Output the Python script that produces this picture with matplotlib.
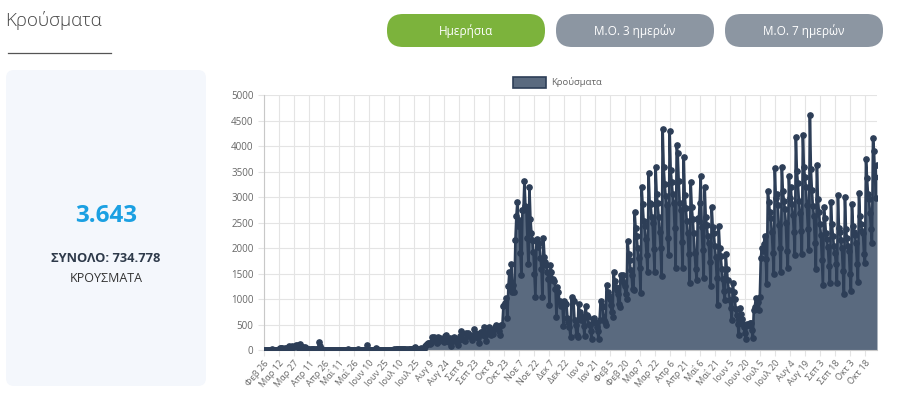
import matplotlib
matplotlib.use("Agg")
import matplotlib.pyplot as plt
import pandas as pd
from matplotlib.patches import FancyBboxPatch, Rectangle

# daily new cases, one row per week (Wed .. Tue), starting Wed 26 Feb 2020
cases_2020 = [
    1, 2, 0, 0, 0, 1, 3,
    2, 22, 14, 13, 7, 11, 16,
    10, 27, 38, 38, 38, 21, 33,
    56, 31, 46, 53, 94, 71, 48,
    78, 71, 74, 95, 102, 67, 102,
    50, 129, 60, 54, 62, 41, 60,
    56, 33, 25, 20, 13, 26, 25,
    29, 27, 15, 22, 25, 8, 156,
    78, 11, 21, 10, 13, 6, 10,
    12, 10, 15, 3, 3, 10, 0,
    15, 13, 10, 16, 3, 2, 9,
    11, 4, 10, 5, 3, 7, 3,
    21, 6, 3, 4, 5, 0, 2,
    10, 9, 5, 18, 2, 1, 1,
    3, 3, 0, 3, 0, 97, 6,
    4, 9, 10, 15, 10, 4, 3,
    55, 20, 15, 9, 7, 3, 12,
    7, 8, 12, 17, 6, 5, 14,
    14, 11, 3, 12, 19, 13, 30,
    28, 21, 21, 30, 19, 29, 19,
    26, 19, 16, 25, 11, 19, 24,
    25, 28, 35, 46, 57, 18, 31,
    33, 27, 37, 41, 26, 27, 31,
    78, 110, 124, 153, 151, 126, 150,
    262, 204, 254, 230, 217, 139, 269,
    187, 234, 211, 226, 202, 157, 284,
    293, 210, 191, 168, 243, 89, 191,
    210, 268, 179, 225, 169, 104, 208,
    291, 372, 336, 218, 208, 181, 340,
    276, 338, 277, 303, 289, 201, 262,
    410, 337, 289, 305, 246, 154, 340,
    362, 369, 307, 460, 280, 186, 333,
    366, 459, 406, 308, 328, 318, 412,
    457, 508, 448, 422, 389, 301, 490,
    499, 865, 882, 935, 1026, 626, 1259,
    1547, 1211, 1690, 1153, 1288, 1152, 2166,
    2646, 2917, 2448, 2556, 1914, 1487, 2752,
    2752, 3316, 2835, 2768, 2198, 1695, 3209,
    2581, 2311, 2163, 1929, 1498, 1044, 2152,
    2186, 2030, 2113, 1822, 1601, 1044, 2199,
    1829, 1741, 1674, 1543, 1395, 892, 1677,
    1535, 1389, 1395, 1367, 1205, 663, 1235,
    1142, 947, 978, 867, 884, 486, 975,
    934, 912, 637, 549, 459, 262, 1047,
    992, 962,
]

cases_2021 = [
    604, 495, 301, 262, 918,
    745, 602, 671, 612, 477, 278, 876,
    701, 655, 512, 491, 384, 220, 612,
    640, 558, 539, 468, 380, 215, 591,
    960, 848, 870, 601, 565, 505, 1285,
    1155, 1071, 1002, 886, 760, 662, 1530,
    1366, 1247, 1186, 1100, 902, 860, 1480,
    1388, 1471, 1316, 1258, 1108, 1000, 2150,
    1888, 1780, 1574, 1479, 1201, 1190, 2720,
    2406, 2250, 2016, 1818, 1608, 1130, 3210,
    2880, 2543, 2440, 2191, 1863, 1545, 3470,
    2900, 2876, 2607, 2498, 1990, 1545, 3590,
    3066, 2882, 2619, 2316, 2017, 1450, 4340,
    3598, 3271, 3019, 2847, 2200, 1870, 4310,
    3540, 3311, 3070, 2900, 2400, 1610, 4030,
    3870, 3329, 2888, 2760, 2135, 1610, 3790,
    3057, 2802, 2543, 2311, 1893, 1330, 3310,
    2814, 2584, 2300, 1920, 1600, 1380, 2600,
    2541, 2900, 3420, 2415, 1960, 1420, 3200,
    2622, 2450, 2251, 2105, 1740, 1260, 2820,
    2419, 2301, 2057, 1840, 1420, 890, 2440,
    2017, 1850, 1600, 1402, 1166, 990, 1890,
    1605, 1372, 1184, 986, 826, 595, 1330,
    1145, 1000, 820, 700, 520, 300, 825,
    715, 615, 510, 450, 350, 215, 520,
    506, 496, 530, 538, 400, 235, 790,
    850, 1030, 1010, 945, 800, 1050, 1810,
    2004, 1952, 2084, 2237, 1785, 1300, 3135,
    2911, 2705, 2600, 2330, 1905, 1500, 3575,
    2986, 3060, 2850, 2455, 2010, 1545, 3605,
    3130, 2940, 2764, 2490, 1947, 1610, 3430,
    2990, 3200, 2870, 2661, 2327, 1870, 4195,
    3520, 3280, 2940, 2700, 2350, 1890, 4230,
    3600, 3402, 3205, 2848, 2390, 1960, 4620,
    3560, 3140, 2830, 2640, 2100, 1590, 3640,
    2970, 2720, 2480, 2270, 1780, 1285, 2820,
    2590, 2300, 2180, 2030, 1660, 1330, 2920,
    2470, 2250, 2040, 1920, 1700, 1315, 3040,
    2400, 2330, 2170, 2000, 1550, 1100, 3000,
    2380, 2200, 2050, 1950, 1500, 1165, 2870,
    2440, 2320, 2260, 2100, 1700, 1350, 3080,
    2630, 2480, 2350, 2310, 1900, 1710, 3750,
    3390, 3060, 2960, 2700, 2380, 2100, 4160,
    3920, 3400, 2985, 3643,
]

start_date = "2020-02-26"
month_names = ["Ιαν", "Φεβ", "Μαρ", "Απρ", "Μαΐ", "Ιουν",
               "Ιουλ", "Αυγ", "Σεπ", "Οκτ", "Νοε", "Δεκ"]
series_name = "Κρούσματα"
page_title = "Κρούσματα"
buttons = ["Ημερήσια", "Μ.Ο. 3 ημερών", "Μ.Ο. 7 ημερών"]
latest_value = "3.643"
total_text = "ΣΥΝΟΛΟ: 734.778"
unit_text = "ΚΡΟΥΣΜΑΤΑ"

cases = cases_2020 + cases_2021
days = pd.date_range(start_date, periods=len(cases), freq="D")
x = list(range(len(cases)))

FILL = "#5a6a7f"
LINE = "#2d3e57"
GRID = "#e4e4e4"
TICK = "#666666"

plt.rcParams["font.family"] = ["Open Sans", "DejaVu Sans"]

fig = plt.figure(figsize=(9, 3.99), dpi=100)
fig.patch.set_facecolor("white")

# page layer in pixel coordinates
bg = fig.add_axes([0, 0, 1, 1])
bg.set_xlim(0, 900)
bg.set_ylim(399, 0)
bg.axis("off")

bg.text(5, 21, page_title, fontsize=13.5, color="#444444",
        fontweight="light", va="center", ha="left")
bg.plot([8, 111], [53, 53], color="#555555", lw=0.9)

btn_x = [387, 556, 725]
btn_col = ["#7cb33c", "#8c96a2", "#8c96a2"]
for bx, col, label in zip(btn_x, btn_col, buttons):
    bg.add_patch(FancyBboxPatch((bx, 14), 158, 33,
                                boxstyle="round,pad=0,rounding_size=16",
                                fc=col, ec="none"))
    bg.text(bx + 79, 31, label, color="white", fontsize=8.5,
            ha="center", va="center")

bg.add_patch(FancyBboxPatch((6, 70), 200, 316,
                            boxstyle="round,pad=0,rounding_size=8",
                            fc="#f4f7fc", ec="none"))
bg.text(106, 216, latest_value, color="#1ba0e2", fontsize=17.5,
        fontweight="bold", ha="center", va="center")
bg.text(106, 258, total_text, color="#2e3a4a", fontsize=9.3,
        fontweight="bold", ha="center", va="center")
bg.text(106, 278, unit_text, color="#333333", fontsize=9,
        ha="center", va="center")

# legend (chart.js style)
bg.add_patch(Rectangle((513, 77), 33, 11, fc=FILL, ec=LINE, lw=1.2))
bg.text(551, 82.5, series_name, color=TICK, fontsize=6.8,
        ha="left", va="center")

# chart
ax = fig.add_axes([264 / 900, (399 - 350.4) / 399, 613 / 900, 254.9 / 399])
ax.fill_between(x, cases, 0, color=FILL, lw=0, zorder=2)
ax.plot(x, cases, color=LINE, lw=1.9, marker="o", ms=3.8,
        mfc=LINE, mec=LINE, zorder=3)

ax.set_xlim(0, len(cases) - 1)
ax.set_ylim(0, 5000)
ax.set_yticks(range(0, 5001, 500))
ticks = list(range(0, len(cases), 15))
ax.set_xticks(ticks)
ax.set_xticklabels([f"{month_names[days[i].month - 1]} {days[i].day}" for i in ticks],
                   rotation=50, ha="right", rotation_mode="anchor")
ax.grid(True, color=GRID, lw=0.8, zorder=0)
ax.set_axisbelow(True)
ax.tick_params(axis="both", colors=GRID, labelcolor=TICK, length=4, width=0.8)
ax.tick_params(axis="y", labelsize=7)
ax.tick_params(axis="x", labelsize=6.6, pad=2)
for side in ["top", "right"]:
    ax.spines[side].set_visible(False)
ax.spines["left"].set_color("#c8c8c8")
ax.spines["bottom"].set_color("#c8c8c8")

fig.savefig("out.png", dpi=100, facecolor="white")
